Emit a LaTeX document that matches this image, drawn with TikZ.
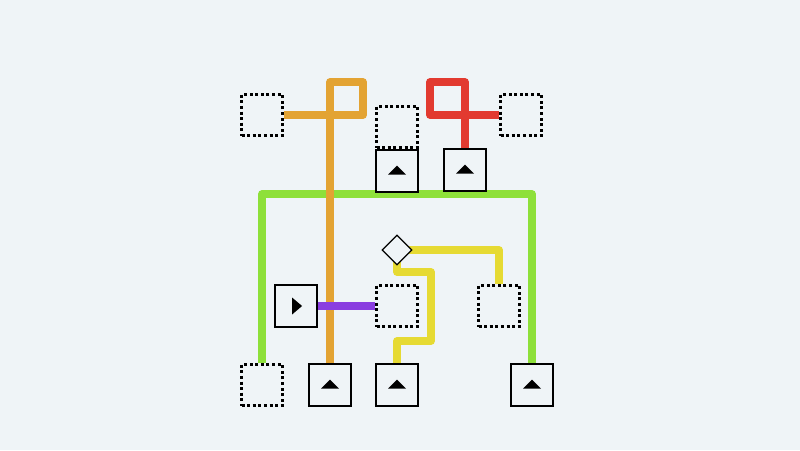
\documentclass[tikz,border=0pt]{standalone}
\usetikzlibrary{shapes.geometric}
\definecolor{bgcol}{HTML}{EFF4F7}
\definecolor{orangewire}{HTML}{E3A333}
\definecolor{redwire}{HTML}{E23A30}
\definecolor{greenwire}{HTML}{8EE03A}
\definecolor{yellowwire}{HTML}{E6DA33}
\definecolor{purplewire}{HTML}{8A3DE0}
\begin{document}
\begin{tikzpicture}[x=1pt, y=-1pt,
    wire/.style={line width=7.5pt, line join=round},
    slot/.style={draw, line width=3pt, dash pattern=on 3pt off 2.6pt, minimum size=41pt, inner sep=0pt, fill=bgcol},
    btn/.style={draw, line width=2pt, minimum size=42pt, inner sep=0pt, fill=bgcol},
    upmark/.style={fill, isosceles triangle, isosceles triangle apex angle=90, shape border rotate=90, minimum height=9pt, inner sep=0pt},
    rightmark/.style={fill, isosceles triangle, isosceles triangle stretches, minimum width=17pt, minimum height=10pt, inner sep=0pt},
    gate/.style={draw, diamond, line width=1.2pt, minimum size=30pt, inner sep=0pt, fill=bgcol}]
    \fill[bgcol] (0,0) rectangle (800,450);
    \useasboundingbox (0,0) rectangle (800,450);
    % wires first, the boxes cover their ends
    \coordinate (gTop) at (0,194);
    % slots
    \node[slot] (sTL) at (262,115) {};
    \node[slot] (sTM) at (397,127) {};
    \node[slot] (sTR) at (521,115) {};
    \node[slot] (sMM) at (397,306) {};
    \node[slot] (sMR) at (499,306) {};
    \node[slot] (sBL) at (262,385) {};
    % wires
    \draw[wire, greenwire] (sBL.north) -- (sBL.north |- gTop) -| (532,363);
    \draw[wire, orangewire] (330,363) -- (330,82) -- (363,82) -- (363,115) -- (sTL.east);
    \draw[wire, redwire] (465,149) -- (465,82) -- (430,82) -- (430,115) -- (sTR.west);
    \draw[wire, yellowwire] (397,250) -| (sMR.north);
    \draw[wire, yellowwire] (397,250) -- (397,272) -- (431,272) -- (431,341) -- (397,341) -- (397,364);
    \draw[wire, purplewire] (296,306) -- (sMM.west);
    % buttons
    \node[btn] (bTM) at (397,171) {};
    \node[upmark] at (bTM) {};
    \node[btn] (bTR) at (465,170) {};
    \node[upmark] at (bTR) {};
    \node[btn] (bPlay) at (296,306) {};
    \node[rightmark] at (bPlay) {};
    \node[btn] (bB1) at (330,385) {};
    \node[upmark] at (bB1) {};
    \node[btn] (bB2) at (397,385) {};
    \node[upmark] at (bB2) {};
    \node[btn] (bB3) at (532,385) {};
    \node[upmark] at (bB3) {};
    \node[gate] (gDia) at (397,250) {};
\end{tikzpicture}
\end{document}
